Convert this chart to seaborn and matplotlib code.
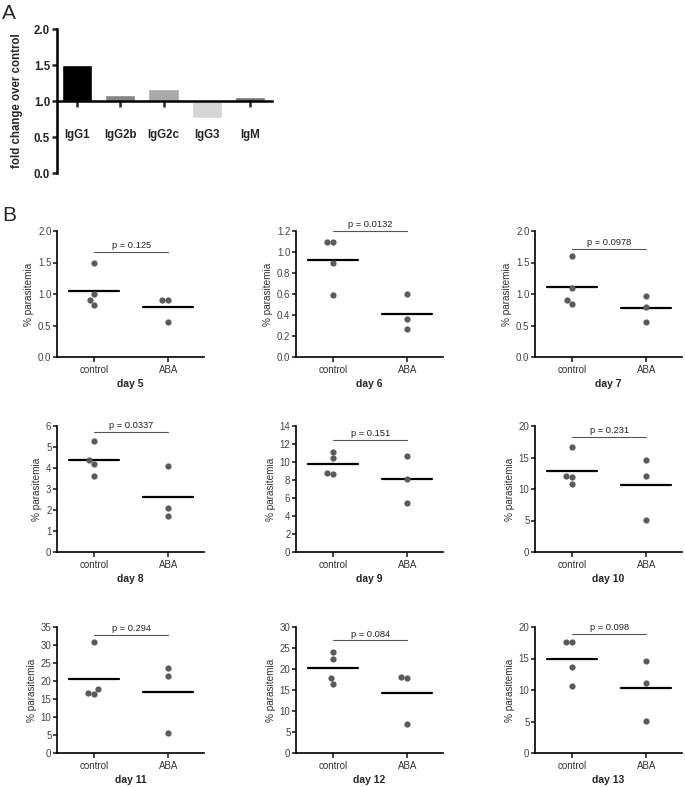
import numpy as np
import pandas as pd
import matplotlib
matplotlib.use("Agg")
import matplotlib.pyplot as plt
import seaborn as sns

# Panel A: fold change of antibody isotypes
isotypes = ["IgG1", "IgG2b", "IgG2c", "IgG3", "IgM"]
fold_change = [1.50, 1.08, 1.17, 0.77, 1.05]
bar_colors = ["#000000", "#858585", "#a9a9a9", "#d6d6d6", "#747474"]

# Panel B: % parasitemia per day
groups = ["control", "ABA"]
days = [5, 6, 7, 8, 9, 10, 11, 12, 13]
control_vals = [
    [1.50, 1.00, 0.90, 0.82],
    [1.10, 1.10, 0.90, 0.59],
    [1.60, 1.10, 0.91, 0.84],
    [5.30, 4.40, 4.20, 3.60],
    [11.1, 10.4, 8.7, 8.8],
    [16.6, 12.1, 11.9, 10.8],
    [30.7, 17.8, 16.5, 16.8],
    [24.1, 22.5, 17.9, 16.5],
    [17.6, 17.6, 13.6, 10.6],
]
aba_vals = [
    [0.91, 0.90, 0.55],
    [0.60, 0.36, 0.27],
    [0.97, 0.80, 0.55],
    [4.10, 2.10, 1.70],
    [10.7, 8.1, 5.4],
    [14.6, 12.1, 5.1],
    [23.6, 21.4, 5.6],
    [18.0, 17.8, 6.9],
    [14.6, 11.1, 5.1],
]
p_values = ["0.125", "0.0132", "0.0978", "0.0337", "0.151",
            "0.231", "0.294", "0.084", "0.098"]
y_max = [2.0, 1.2, 2.0, 6, 14, 20, 35, 30, 20]
y_step = [0.5, 0.2, 0.5, 1, 2, 5, 5, 5, 5]
p_line_y = [1.67, 1.2, 1.71, 5.73, 12.5, 18.2, 32.9, 26.8, 18.9]

sns.set_style("ticks")
plt.rcParams["font.family"] = ["Liberation Sans", "DejaVu Sans"]

W, H = 685, 787
fig = plt.figure(figsize=(W / 100, H / 100), dpi=100)


def px_axes(left, top, right, bottom):
    """Make an axes from pixel positions"""
    return fig.add_axes([left / W, (H - bottom) / H, (right - left) / W, (bottom - top) / H])


# ---- Panel A ----
ax = px_axes(57, 29, 272, 173)
heights = np.array(fold_change) - 1
ax.bar(isotypes, heights, bottom=1, width=0.7, color=bar_colors, zorder=1)
ax.set_ylim(0, 2.0)
ax.set_xlim(-0.46, 4.5)
ax.set_yticks([0, 0.5, 1.0, 1.5, 2.0])
ax.set_yticklabels(["0.0", "0.5", "1.0", "1.5", "2.0"])
for s in ["top", "right"]:
    ax.spines[s].set_visible(False)
ax.spines["bottom"].set_position(("data", 1.0))
ax.spines["bottom"].set_zorder(3)
for s in ["left", "bottom"]:
    ax.spines[s].set_linewidth(1.8)
    ax.spines[s].set_color("black")
ax.tick_params(axis="x", length=4.5, width=1.8, pad=16, labelsize=8.3)
ax.tick_params(axis="y", length=3.5, width=1.8, pad=1.5, labelsize=8.3)
for lab in ax.get_xticklabels() + ax.get_yticklabels():
    lab.set_fontweight("bold")
ax.set_ylabel("fold change over control", fontsize=8.3, fontweight="bold", labelpad=8)
fig.text(2 / W, 1 - 4 / H, "A", fontsize=15, va="top", ha="left")

# ---- Panel B ----
col_left = [57, 296, 535]
row_top = [231, 426, 627]
fig.text(2 / W, 1 - 206 / H, "B", fontsize=15, va="top", ha="left")

for i, day in enumerate(days):
    r, c = divmod(i, 3)
    ax = px_axes(col_left[c], row_top[r], col_left[c] + 147, row_top[r] + 126)
    df = pd.DataFrame({
        "group": ["control"] * len(control_vals[i]) + ["ABA"] * len(aba_vals[i]),
        "value": control_vals[i] + aba_vals[i],
    })
    ax.set_ylim(0, y_max[i])
    sns.swarmplot(data=df, x="group", y="value", order=groups, color="#5b5b5b",
                  size=4.5, linewidth=0, ax=ax, zorder=3)
    means = df.groupby("group")["value"].mean().reindex(groups)
    for j, m in enumerate(means):
        ax.plot([j - 0.34, j + 0.33], [m, m], color="black", lw=1.6, zorder=2)
    # significance line
    ax.plot([0, 1], [p_line_y[i], p_line_y[i]], color="#555555", lw=0.8, clip_on=False)
    ax.text(0.5, p_line_y[i] + y_max[i] * 0.015, "p = " + p_values[i], ha="center",
            va="bottom", fontsize=6.7, color="#222222")
    ax.set_xlim(-0.5, 1.48)
    ax.set_ylim(0, y_max[i])
    ticks = np.arange(0, y_max[i] + y_step[i] / 2, y_step[i])
    ax.set_yticks(ticks)
    if y_step[i] < 1:
        ax.set_yticklabels([f"{t:.1f}" for t in ticks])
    else:
        ax.set_yticklabels([f"{t:.0f}" for t in ticks])
    for s in ["top", "right"]:
        ax.spines[s].set_visible(False)
    for s in ["left", "bottom"]:
        ax.spines[s].set_linewidth(1.2)
        ax.spines[s].set_color("black")
    ax.tick_params(axis="x", length=3.5, width=1.2, pad=2, labelsize=7, labelcolor="#333333")
    ax.tick_params(axis="y", length=3, width=1.2, pad=1, labelsize=7, labelcolor="#444444")
    ax.set_xlabel("day %d" % day, fontsize=7.5, fontweight="bold", labelpad=3)
    ax.set_ylabel("% parasitemia", fontsize=7.2, color="#333333", labelpad=3)

fig.savefig("out.png", dpi=100)
